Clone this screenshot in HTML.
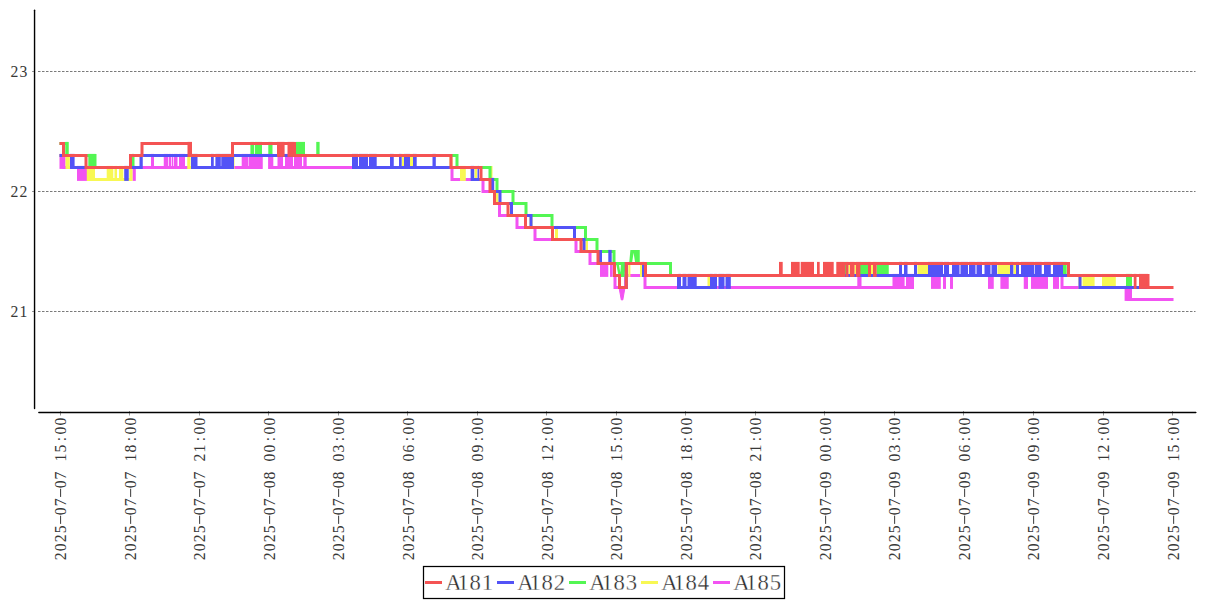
<!DOCTYPE html>
<html><head><meta charset="utf-8"><title>chart</title>
<style>html,body{margin:0;padding:0;background:#fff;width:1207px;height:600px;overflow:hidden}svg{display:block}</style>
</head><body>
<svg width="1207" height="600" viewBox="0 0 1207 600" font-family='"Liberation Serif", serif' fill="#383838">
<rect width="1207" height="600" fill="#fff"/>
<line x1="38" y1="71.5" x2="1195.5" y2="71.5" stroke="#7a7a7a" stroke-width="1" stroke-dasharray="2.5 1.5"/><line x1="38" y1="191.5" x2="1195.5" y2="191.5" stroke="#7a7a7a" stroke-width="1" stroke-dasharray="2.5 1.5"/><line x1="38" y1="311.5" x2="1195.5" y2="311.5" stroke="#7a7a7a" stroke-width="1" stroke-dasharray="2.5 1.5"/>
<line x1="32" y1="71.5" x2="34" y2="71.5" stroke="#999" stroke-width="1"/><line x1="32" y1="191.5" x2="34" y2="191.5" stroke="#999" stroke-width="1"/><line x1="32" y1="311.5" x2="34" y2="311.5" stroke="#999" stroke-width="1"/>
<line x1="60.50" y1="411" x2="60.50" y2="415.5" stroke="#999" stroke-width="1"/><line x1="129.50" y1="411" x2="129.50" y2="415.5" stroke="#999" stroke-width="1"/><line x1="199.50" y1="411" x2="199.50" y2="415.5" stroke="#999" stroke-width="1"/><line x1="268.50" y1="411" x2="268.50" y2="415.5" stroke="#999" stroke-width="1"/><line x1="338.50" y1="411" x2="338.50" y2="415.5" stroke="#999" stroke-width="1"/><line x1="407.50" y1="411" x2="407.50" y2="415.5" stroke="#999" stroke-width="1"/><line x1="477.50" y1="411" x2="477.50" y2="415.5" stroke="#999" stroke-width="1"/><line x1="546.50" y1="411" x2="546.50" y2="415.5" stroke="#999" stroke-width="1"/><line x1="616.50" y1="411" x2="616.50" y2="415.5" stroke="#999" stroke-width="1"/><line x1="685.50" y1="411" x2="685.50" y2="415.5" stroke="#999" stroke-width="1"/><line x1="755.50" y1="411" x2="755.50" y2="415.5" stroke="#999" stroke-width="1"/><line x1="824.50" y1="411" x2="824.50" y2="415.5" stroke="#999" stroke-width="1"/><line x1="894.50" y1="411" x2="894.50" y2="415.5" stroke="#999" stroke-width="1"/><line x1="963.50" y1="411" x2="963.50" y2="415.5" stroke="#999" stroke-width="1"/><line x1="1033.50" y1="411" x2="1033.50" y2="415.5" stroke="#999" stroke-width="1"/><line x1="1103.50" y1="411" x2="1103.50" y2="415.5" stroke="#999" stroke-width="1"/><line x1="1172.50" y1="411" x2="1172.50" y2="415.5" stroke="#999" stroke-width="1"/>
<g>
<rect x="59.5" y="153.90" width="5.50" height="15.00" fill="#f253f2"/>
<rect x="77" y="165.90" width="11.30" height="15.00" fill="#f253f2"/>
<rect x="132.5" y="165.90" width="3.30" height="15.00" fill="#f253f2"/>
<rect x="151" y="153.90" width="3.00" height="15.00" fill="#f253f2"/>
<rect x="163.75" y="153.90" width="4.55" height="15.00" fill="#f253f2"/>
<rect x="169" y="153.90" width="2.00" height="15.00" fill="#f253f2"/>
<rect x="171.7" y="153.90" width="1.60" height="15.00" fill="#f253f2"/>
<rect x="174" y="153.90" width="3.50" height="15.00" fill="#f253f2"/>
<rect x="179" y="153.90" width="6.00" height="15.00" fill="#f253f2"/>
<rect x="241.7" y="153.90" width="6.60" height="15.00" fill="#f253f2"/>
<rect x="248.75" y="153.90" width="13.75" height="15.00" fill="#f253f2"/>
<rect x="262.5" y="153.90" width="5.80" height="3.00" fill="#f253f2"/>
<rect x="268.3" y="153.90" width="5.00" height="15.00" fill="#f253f2"/>
<rect x="277.5" y="153.90" width="5.50" height="15.00" fill="#f253f2"/>
<rect x="285" y="153.90" width="8.00" height="15.00" fill="#f253f2"/>
<rect x="294" y="153.90" width="8.00" height="15.00" fill="#f253f2"/>
<rect x="303.3" y="153.90" width="3.40" height="15.00" fill="#f253f2"/>
<rect x="600" y="261.90" width="8.30" height="15.00" fill="#f253f2"/>
<rect x="610" y="261.90" width="2.50" height="15.00" fill="#f253f2"/>
<rect x="892.5" y="273.90" width="12.10" height="15.00" fill="#f253f2"/>
<rect x="906" y="273.90" width="7.75" height="15.00" fill="#f253f2"/>
<rect x="931" y="273.90" width="9.80" height="15.00" fill="#f253f2"/>
<rect x="943" y="273.90" width="3.00" height="15.00" fill="#f253f2"/>
<rect x="950" y="273.90" width="3.00" height="15.00" fill="#f253f2"/>
<rect x="988" y="273.90" width="5.75" height="15.00" fill="#f253f2"/>
<rect x="1000.4" y="273.90" width="8.35" height="15.00" fill="#f253f2"/>
<rect x="1023.75" y="273.90" width="4.25" height="15.00" fill="#f253f2"/>
<rect x="1031" y="273.90" width="17.00" height="15.00" fill="#f253f2"/>
<rect x="1053" y="273.90" width="6.00" height="15.00" fill="#f253f2"/>
<rect x="1124.6" y="285.90" width="7.40" height="15.00" fill="#f253f2"/>
<path d="M59.5 155.4H64V167.4H261V155.4H269.8V167.4H452V179.4H483V191.4H494.5V203.4H499.5V215.4H517V227.4H535V239.4H576V251.4H590V263.4H614V275.4H615V287.4H625.5V275.4H645V287.4H858.8V275.4H860V287.4H912.5V275.4H1062V287.4H1128V299.4H1173.5" fill="none" stroke="#f253f2" stroke-width="3" stroke-linejoin="miter" stroke-linecap="butt"/>
</g>
<path d="M619 287.4 L621.3 299.9 L622.8 299.9 L625 287.4 Z" fill="#f253f2" stroke="#f253f2" stroke-width="1"/>
<g>
<rect x="65.5" y="153.90" width="4.10" height="15.00" fill="#f8f853"/>
<rect x="88.3" y="165.90" width="6.70" height="15.00" fill="#f8f853"/>
<rect x="106.7" y="165.90" width="6.60" height="15.00" fill="#f8f853"/>
<rect x="114.5" y="165.90" width="2.50" height="15.00" fill="#f8f853"/>
<rect x="119" y="165.90" width="4.30" height="15.00" fill="#f8f853"/>
<rect x="129.5" y="165.90" width="2.00" height="15.00" fill="#f8f853"/>
<rect x="187.5" y="153.90" width="2.50" height="15.00" fill="#f8f853"/>
<rect x="232.5" y="153.90" width="1.50" height="15.00" fill="#f8f853"/>
<rect x="402" y="153.90" width="2.00" height="15.00" fill="#f8f853"/>
<rect x="410" y="153.90" width="3.75" height="15.00" fill="#f8f853"/>
<rect x="460" y="165.90" width="5.80" height="15.00" fill="#f8f853"/>
<rect x="474.6" y="165.90" width="2.40" height="15.00" fill="#f8f853"/>
<rect x="495.8" y="189.90" width="2.20" height="15.00" fill="#f8f853"/>
<rect x="555" y="225.90" width="3.00" height="15.00" fill="#f8f853"/>
<rect x="586" y="237.90" width="2.00" height="15.00" fill="#f8f853"/>
<rect x="628.3" y="261.90" width="2.10" height="15.00" fill="#f8f853"/>
<rect x="640" y="261.90" width="2.50" height="15.00" fill="#f8f853"/>
<rect x="707.5" y="273.90" width="2.50" height="15.00" fill="#f8f853"/>
<rect x="848.5" y="261.90" width="1.50" height="15.00" fill="#f8f853"/>
<rect x="854.5" y="261.90" width="1.50" height="15.00" fill="#f8f853"/>
<rect x="871" y="261.90" width="2.00" height="15.00" fill="#f8f853"/>
<rect x="917.5" y="261.90" width="10.50" height="15.00" fill="#f8f853"/>
<rect x="997.5" y="261.90" width="12.50" height="15.00" fill="#f8f853"/>
<rect x="1013.5" y="261.90" width="2.50" height="15.00" fill="#f8f853"/>
<rect x="1082.5" y="273.90" width="12.10" height="15.00" fill="#f8f853"/>
<rect x="1102" y="273.90" width="13.80" height="15.00" fill="#f8f853"/>
<path d="M59.5 155.4H68V167.4H88.3V179.4H131V155.4H189V167.4H233V155.4H451V167.4H491V191.4H497V203.4H511.5V215.4H531V227.4H574.5V239.4H584V251.4H600.5V263.4H614.5V275.4H619.5V287.4H626.3V263.4H643.5V275.4H1080V287.4H1172" fill="none" stroke="#f8f853" stroke-width="3" stroke-linejoin="miter" stroke-linecap="butt"/>
</g>
<g>
<rect x="65.5" y="141.90" width="3.00" height="15.00" fill="#53f653"/>
<rect x="88.3" y="153.90" width="7.50" height="15.00" fill="#53f653"/>
<rect x="132" y="153.90" width="2.00" height="15.00" fill="#53f653"/>
<rect x="250.4" y="141.90" width="3.80" height="15.00" fill="#53f653"/>
<rect x="255" y="141.90" width="7.00" height="15.00" fill="#53f653"/>
<rect x="268.3" y="141.90" width="4.20" height="15.00" fill="#53f653"/>
<rect x="295.8" y="141.90" width="9.20" height="15.00" fill="#53f653"/>
<rect x="316.25" y="141.90" width="3.35" height="15.00" fill="#53f653"/>
<rect x="844" y="261.90" width="2.00" height="15.00" fill="#53f653"/>
<rect x="860" y="261.90" width="8.00" height="15.00" fill="#53f653"/>
<rect x="876.7" y="261.90" width="12.05" height="15.00" fill="#53f653"/>
<rect x="1063" y="261.90" width="3.70" height="15.00" fill="#53f653"/>
<rect x="1126" y="273.90" width="6.00" height="15.00" fill="#53f653"/>
<path d="M59.5 143.4H67V155.4H95V167.4H133V155.4H457V167.4H490V179.4H497V191.4H513V203.4H526V215.4H552V227.4H585.5V239.4H597V251.4H614V263.4H670.5V275.4H1129V287.4H1172" fill="none" stroke="#53f653" stroke-width="3" stroke-linejoin="miter" stroke-linecap="butt"/>
</g>
<path d="M615.8 261.9 L618.5 261.9 L620.3 272.5 L621.2 261.9 L625.5 261.9 L624.6 277 L618.8 277 Z" fill="#53f653"/><path d="M630.4 249.9 L639.75 249.9 L639.75 262 L635 262 L633.6 252.8 L632.2 262 L629.3 262 Z" fill="#53f653"/>
<g>
<rect x="70" y="153.90" width="4.60" height="15.00" fill="#5353f6"/>
<rect x="124.2" y="165.90" width="4.55" height="15.00" fill="#5353f6"/>
<rect x="140" y="153.90" width="2.50" height="15.00" fill="#5353f6"/>
<rect x="191.2" y="153.90" width="6.30" height="15.00" fill="#5353f6"/>
<rect x="211" y="153.90" width="2.75" height="15.00" fill="#5353f6"/>
<rect x="215.4" y="153.90" width="5.40" height="15.00" fill="#5353f6"/>
<rect x="221.25" y="153.90" width="10.45" height="15.00" fill="#5353f6"/>
<rect x="352" y="153.90" width="6.00" height="15.00" fill="#5353f6"/>
<rect x="359" y="153.90" width="9.00" height="15.00" fill="#5353f6"/>
<rect x="369" y="153.90" width="7.70" height="15.00" fill="#5353f6"/>
<rect x="390" y="153.90" width="3.75" height="15.00" fill="#5353f6"/>
<rect x="399" y="153.90" width="2.70" height="15.00" fill="#5353f6"/>
<rect x="404" y="153.90" width="6.00" height="15.00" fill="#5353f6"/>
<rect x="413" y="153.90" width="3.70" height="15.00" fill="#5353f6"/>
<rect x="432.5" y="153.90" width="3.30" height="15.00" fill="#5353f6"/>
<rect x="470.8" y="165.90" width="3.40" height="15.00" fill="#5353f6"/>
<rect x="477.5" y="165.90" width="1.50" height="15.00" fill="#5353f6"/>
<rect x="491" y="177.90" width="3.20" height="15.00" fill="#5353f6"/>
<rect x="608.3" y="249.90" width="3.40" height="15.00" fill="#5353f6"/>
<rect x="642.5" y="261.90" width="1.70" height="15.00" fill="#5353f6"/>
<rect x="678.3" y="273.90" width="2.70" height="15.00" fill="#5353f6"/>
<rect x="682.5" y="273.90" width="4.00" height="15.00" fill="#5353f6"/>
<rect x="687.5" y="273.90" width="9.20" height="15.00" fill="#5353f6"/>
<rect x="710" y="273.90" width="2.80" height="15.00" fill="#5353f6"/>
<rect x="713.8" y="273.90" width="3.20" height="15.00" fill="#5353f6"/>
<rect x="718.5" y="273.90" width="6.00" height="15.00" fill="#5353f6"/>
<rect x="725.5" y="273.90" width="5.30" height="15.00" fill="#5353f6"/>
<rect x="899" y="261.90" width="3.00" height="15.00" fill="#5353f6"/>
<rect x="904" y="261.90" width="3.50" height="15.00" fill="#5353f6"/>
<rect x="914" y="261.90" width="3.00" height="15.00" fill="#5353f6"/>
<rect x="928" y="261.90" width="15.00" height="15.00" fill="#5353f6"/>
<rect x="944" y="261.90" width="5.00" height="15.00" fill="#5353f6"/>
<rect x="952" y="261.90" width="7.50" height="15.00" fill="#5353f6"/>
<rect x="960.5" y="261.90" width="7.50" height="15.00" fill="#5353f6"/>
<rect x="969" y="261.90" width="6.50" height="15.00" fill="#5353f6"/>
<rect x="976.5" y="261.90" width="5.50" height="15.00" fill="#5353f6"/>
<rect x="984.5" y="261.90" width="6.00" height="15.00" fill="#5353f6"/>
<rect x="991.5" y="261.90" width="5.50" height="15.00" fill="#5353f6"/>
<rect x="1010" y="261.90" width="3.30" height="15.00" fill="#5353f6"/>
<rect x="1016" y="261.90" width="3.00" height="15.00" fill="#5353f6"/>
<rect x="1021" y="261.90" width="13.00" height="15.00" fill="#5353f6"/>
<rect x="1034.7" y="261.90" width="7.00" height="15.00" fill="#5353f6"/>
<rect x="1044" y="261.90" width="6.80" height="15.00" fill="#5353f6"/>
<rect x="1053" y="261.90" width="10.00" height="15.00" fill="#5353f6"/>
<path d="M59.5 155.4H72V167.4H141V155.4H192.5V167.4H232.5V155.4H353.5V167.4H472.3V179.4H491V191.4H500V203.4H511.5V215.4H531V227.4H574.5V239.4H584V251.4H600.5V263.4H614.5V275.4H619.5V287.4H626.3V263.4H643.5V275.4H678.5V287.4H713.5V275.4H1080V287.4H1172" fill="none" stroke="#5353f6" stroke-width="3" stroke-linejoin="miter" stroke-linecap="butt"/>
</g>
<g>
<rect x="187.5" y="141.90" width="4.50" height="15.00" fill="#f45353"/>
<rect x="277" y="141.90" width="7.60" height="15.00" fill="#f45353"/>
<rect x="287.5" y="141.90" width="7.00" height="15.00" fill="#f45353"/>
<rect x="779" y="261.90" width="3.70" height="15.00" fill="#f45353"/>
<rect x="791" y="261.90" width="8.70" height="15.00" fill="#f45353"/>
<rect x="800.7" y="261.90" width="13.30" height="15.00" fill="#f45353"/>
<rect x="817" y="261.90" width="2.70" height="15.00" fill="#f45353"/>
<rect x="823" y="261.90" width="10.70" height="15.00" fill="#f45353"/>
<rect x="836.3" y="261.90" width="7.70" height="15.00" fill="#f45353"/>
<rect x="846" y="261.90" width="2.50" height="15.00" fill="#f45353"/>
<rect x="850" y="261.90" width="4.50" height="15.00" fill="#f45353"/>
<rect x="856" y="261.90" width="4.40" height="15.00" fill="#f45353"/>
<rect x="868" y="261.90" width="3.00" height="15.00" fill="#f45353"/>
<rect x="873" y="261.90" width="3.70" height="15.00" fill="#f45353"/>
<rect x="1133.75" y="273.90" width="2.75" height="15.00" fill="#f45353"/>
<rect x="1139" y="273.90" width="9.00" height="15.00" fill="#f45353"/>
<path d="M59.5 143.4H63.5V155.4H86V167.4H130.5V155.4H142V143.4H190V155.4H232.5V143.4H280V143.4H294.5V155.4H451V167.4H481V179.4H490V191.4H494.5V203.4H508V215.4H525.5V227.4H552.5V239.4H581V251.4H598V263.4H614.5V275.4H619.5V287.4H626.3V263.4H645.5V275.4H844V263.4H1068.5V275.4H1148V287.4H1173.5" fill="none" stroke="#f45353" stroke-width="3" stroke-linejoin="miter" stroke-linecap="butt"/>
</g>
<line x1="34.55" y1="10.2" x2="34.55" y2="408.5" stroke="#000" stroke-width="1.4" stroke-linecap="round"/>
<line x1="38.9" y1="412.4" x2="1195.8" y2="412.4" stroke="#000" stroke-width="1.5" stroke-linecap="round"/>
<text x="10.60 19.50" y="77.0" font-size="15.7" >23</text><text x="10.60 19.50" y="197.0" font-size="15.7" >22</text><text x="10.60 19.50" y="317.0" font-size="15.7" >21</text>
<g transform="translate(66.00,560.2) rotate(-90)"><text x="0.00 8.98 17.96 26.94 44.90 53.88 71.84 80.82 98.78 107.76 119.05 125.72 134.70" y="0" font-size="15.7" >2025070715:00</text><line x1="36.32" y1="-5.4" x2="44.50" y2="-5.4" stroke="#383838" stroke-width="1"/><line x1="63.26" y1="-5.4" x2="71.44" y2="-5.4" stroke="#383838" stroke-width="1"/></g><g transform="translate(136.05,560.2) rotate(-90)"><text x="0.00 8.98 17.96 26.94 44.90 53.88 71.84 80.82 98.78 107.76 119.05 125.72 134.70" y="0" font-size="15.7" >2025070718:00</text><line x1="36.32" y1="-5.4" x2="44.50" y2="-5.4" stroke="#383838" stroke-width="1"/><line x1="63.26" y1="-5.4" x2="71.44" y2="-5.4" stroke="#383838" stroke-width="1"/></g><g transform="translate(205.04,560.2) rotate(-90)"><text x="0.00 8.98 17.96 26.94 44.90 53.88 71.84 80.82 98.78 107.76 119.05 125.72 134.70" y="0" font-size="15.7" >2025070721:00</text><line x1="36.32" y1="-5.4" x2="44.50" y2="-5.4" stroke="#383838" stroke-width="1"/><line x1="63.26" y1="-5.4" x2="71.44" y2="-5.4" stroke="#383838" stroke-width="1"/></g><g transform="translate(275.04,560.2) rotate(-90)"><text x="0.00 8.98 17.96 26.94 44.90 53.88 71.84 80.82 98.78 107.76 119.05 125.72 134.70" y="0" font-size="15.7" >2025070800:00</text><line x1="36.32" y1="-5.4" x2="44.50" y2="-5.4" stroke="#383838" stroke-width="1"/><line x1="63.26" y1="-5.4" x2="71.44" y2="-5.4" stroke="#383838" stroke-width="1"/></g><g transform="translate(344.04,560.2) rotate(-90)"><text x="0.00 8.98 17.96 26.94 44.90 53.88 71.84 80.82 98.78 107.76 119.05 125.72 134.70" y="0" font-size="15.7" >2025070803:00</text><line x1="36.32" y1="-5.4" x2="44.50" y2="-5.4" stroke="#383838" stroke-width="1"/><line x1="63.26" y1="-5.4" x2="71.44" y2="-5.4" stroke="#383838" stroke-width="1"/></g><g transform="translate(414.04,560.2) rotate(-90)"><text x="0.00 8.98 17.96 26.94 44.90 53.88 71.84 80.82 98.78 107.76 119.05 125.72 134.70" y="0" font-size="15.7" >2025070806:00</text><line x1="36.32" y1="-5.4" x2="44.50" y2="-5.4" stroke="#383838" stroke-width="1"/><line x1="63.26" y1="-5.4" x2="71.44" y2="-5.4" stroke="#383838" stroke-width="1"/></g><g transform="translate(483.04,560.2) rotate(-90)"><text x="0.00 8.98 17.96 26.94 44.90 53.88 71.84 80.82 98.78 107.76 119.05 125.72 134.70" y="0" font-size="15.7" >2025070809:00</text><line x1="36.32" y1="-5.4" x2="44.50" y2="-5.4" stroke="#383838" stroke-width="1"/><line x1="63.26" y1="-5.4" x2="71.44" y2="-5.4" stroke="#383838" stroke-width="1"/></g><g transform="translate(553.04,560.2) rotate(-90)"><text x="0.00 8.98 17.96 26.94 44.90 53.88 71.84 80.82 98.78 107.76 119.05 125.72 134.70" y="0" font-size="15.7" >2025070812:00</text><line x1="36.32" y1="-5.4" x2="44.50" y2="-5.4" stroke="#383838" stroke-width="1"/><line x1="63.26" y1="-5.4" x2="71.44" y2="-5.4" stroke="#383838" stroke-width="1"/></g><g transform="translate(622.04,560.2) rotate(-90)"><text x="0.00 8.98 17.96 26.94 44.90 53.88 71.84 80.82 98.78 107.76 119.05 125.72 134.70" y="0" font-size="15.7" >2025070815:00</text><line x1="36.32" y1="-5.4" x2="44.50" y2="-5.4" stroke="#383838" stroke-width="1"/><line x1="63.26" y1="-5.4" x2="71.44" y2="-5.4" stroke="#383838" stroke-width="1"/></g><g transform="translate(692.04,560.2) rotate(-90)"><text x="0.00 8.98 17.96 26.94 44.90 53.88 71.84 80.82 98.78 107.76 119.05 125.72 134.70" y="0" font-size="15.7" >2025070818:00</text><line x1="36.32" y1="-5.4" x2="44.50" y2="-5.4" stroke="#383838" stroke-width="1"/><line x1="63.26" y1="-5.4" x2="71.44" y2="-5.4" stroke="#383838" stroke-width="1"/></g><g transform="translate(761.04,560.2) rotate(-90)"><text x="0.00 8.98 17.96 26.94 44.90 53.88 71.84 80.82 98.78 107.76 119.05 125.72 134.70" y="0" font-size="15.7" >2025070821:00</text><line x1="36.32" y1="-5.4" x2="44.50" y2="-5.4" stroke="#383838" stroke-width="1"/><line x1="63.26" y1="-5.4" x2="71.44" y2="-5.4" stroke="#383838" stroke-width="1"/></g><g transform="translate(831.04,560.2) rotate(-90)"><text x="0.00 8.98 17.96 26.94 44.90 53.88 71.84 80.82 98.78 107.76 119.05 125.72 134.70" y="0" font-size="15.7" >2025070900:00</text><line x1="36.32" y1="-5.4" x2="44.50" y2="-5.4" stroke="#383838" stroke-width="1"/><line x1="63.26" y1="-5.4" x2="71.44" y2="-5.4" stroke="#383838" stroke-width="1"/></g><g transform="translate(900.04,560.2) rotate(-90)"><text x="0.00 8.98 17.96 26.94 44.90 53.88 71.84 80.82 98.78 107.76 119.05 125.72 134.70" y="0" font-size="15.7" >2025070903:00</text><line x1="36.32" y1="-5.4" x2="44.50" y2="-5.4" stroke="#383838" stroke-width="1"/><line x1="63.26" y1="-5.4" x2="71.44" y2="-5.4" stroke="#383838" stroke-width="1"/></g><g transform="translate(970.04,560.2) rotate(-90)"><text x="0.00 8.98 17.96 26.94 44.90 53.88 71.84 80.82 98.78 107.76 119.05 125.72 134.70" y="0" font-size="15.7" >2025070906:00</text><line x1="36.32" y1="-5.4" x2="44.50" y2="-5.4" stroke="#383838" stroke-width="1"/><line x1="63.26" y1="-5.4" x2="71.44" y2="-5.4" stroke="#383838" stroke-width="1"/></g><g transform="translate(1039.04,560.2) rotate(-90)"><text x="0.00 8.98 17.96 26.94 44.90 53.88 71.84 80.82 98.78 107.76 119.05 125.72 134.70" y="0" font-size="15.7" >2025070909:00</text><line x1="36.32" y1="-5.4" x2="44.50" y2="-5.4" stroke="#383838" stroke-width="1"/><line x1="63.26" y1="-5.4" x2="71.44" y2="-5.4" stroke="#383838" stroke-width="1"/></g><g transform="translate(1109.05,560.2) rotate(-90)"><text x="0.00 8.98 17.96 26.94 44.90 53.88 71.84 80.82 98.78 107.76 119.05 125.72 134.70" y="0" font-size="15.7" >2025070912:00</text><line x1="36.32" y1="-5.4" x2="44.50" y2="-5.4" stroke="#383838" stroke-width="1"/><line x1="63.26" y1="-5.4" x2="71.44" y2="-5.4" stroke="#383838" stroke-width="1"/></g><g transform="translate(1179.05,560.2) rotate(-90)"><text x="0.00 8.98 17.96 26.94 44.90 53.88 71.84 80.82 98.78 107.76 119.05 125.72 134.70" y="0" font-size="15.7" >2025070915:00</text><line x1="36.32" y1="-5.4" x2="44.50" y2="-5.4" stroke="#383838" stroke-width="1"/><line x1="63.26" y1="-5.4" x2="71.44" y2="-5.4" stroke="#383838" stroke-width="1"/></g>
<rect x="423.5" y="566.5" width="361" height="32" fill="none" stroke="#000" stroke-width="1.25"/>
<line x1="425" y1="582.5" x2="442" y2="582.5" stroke="#f45353" stroke-width="3"/><text x="445.20 457.40 469.60 481.80" y="589.9" font-size="22.7" stroke="#fff" stroke-width="0.3" fill="#2e2e2e">A181</text><line x1="497" y1="582.5" x2="514" y2="582.5" stroke="#5353f6" stroke-width="3"/><text x="517.20 529.40 541.60 553.80" y="589.9" font-size="22.7" stroke="#fff" stroke-width="0.3" fill="#2e2e2e">A182</text><line x1="569" y1="582.5" x2="586" y2="582.5" stroke="#53f653" stroke-width="3"/><text x="589.20 601.40 613.60 625.80" y="589.9" font-size="22.7" stroke="#fff" stroke-width="0.3" fill="#2e2e2e">A183</text><line x1="641" y1="582.5" x2="658" y2="582.5" stroke="#f8f853" stroke-width="3"/><text x="661.20 673.40 685.60 697.80" y="589.9" font-size="22.7" stroke="#fff" stroke-width="0.3" fill="#2e2e2e">A184</text><line x1="713" y1="582.5" x2="730" y2="582.5" stroke="#f253f2" stroke-width="3"/><text x="733.20 745.40 757.60 769.80" y="589.9" font-size="22.7" stroke="#fff" stroke-width="0.3" fill="#2e2e2e">A185</text>
</svg>
</body></html>
